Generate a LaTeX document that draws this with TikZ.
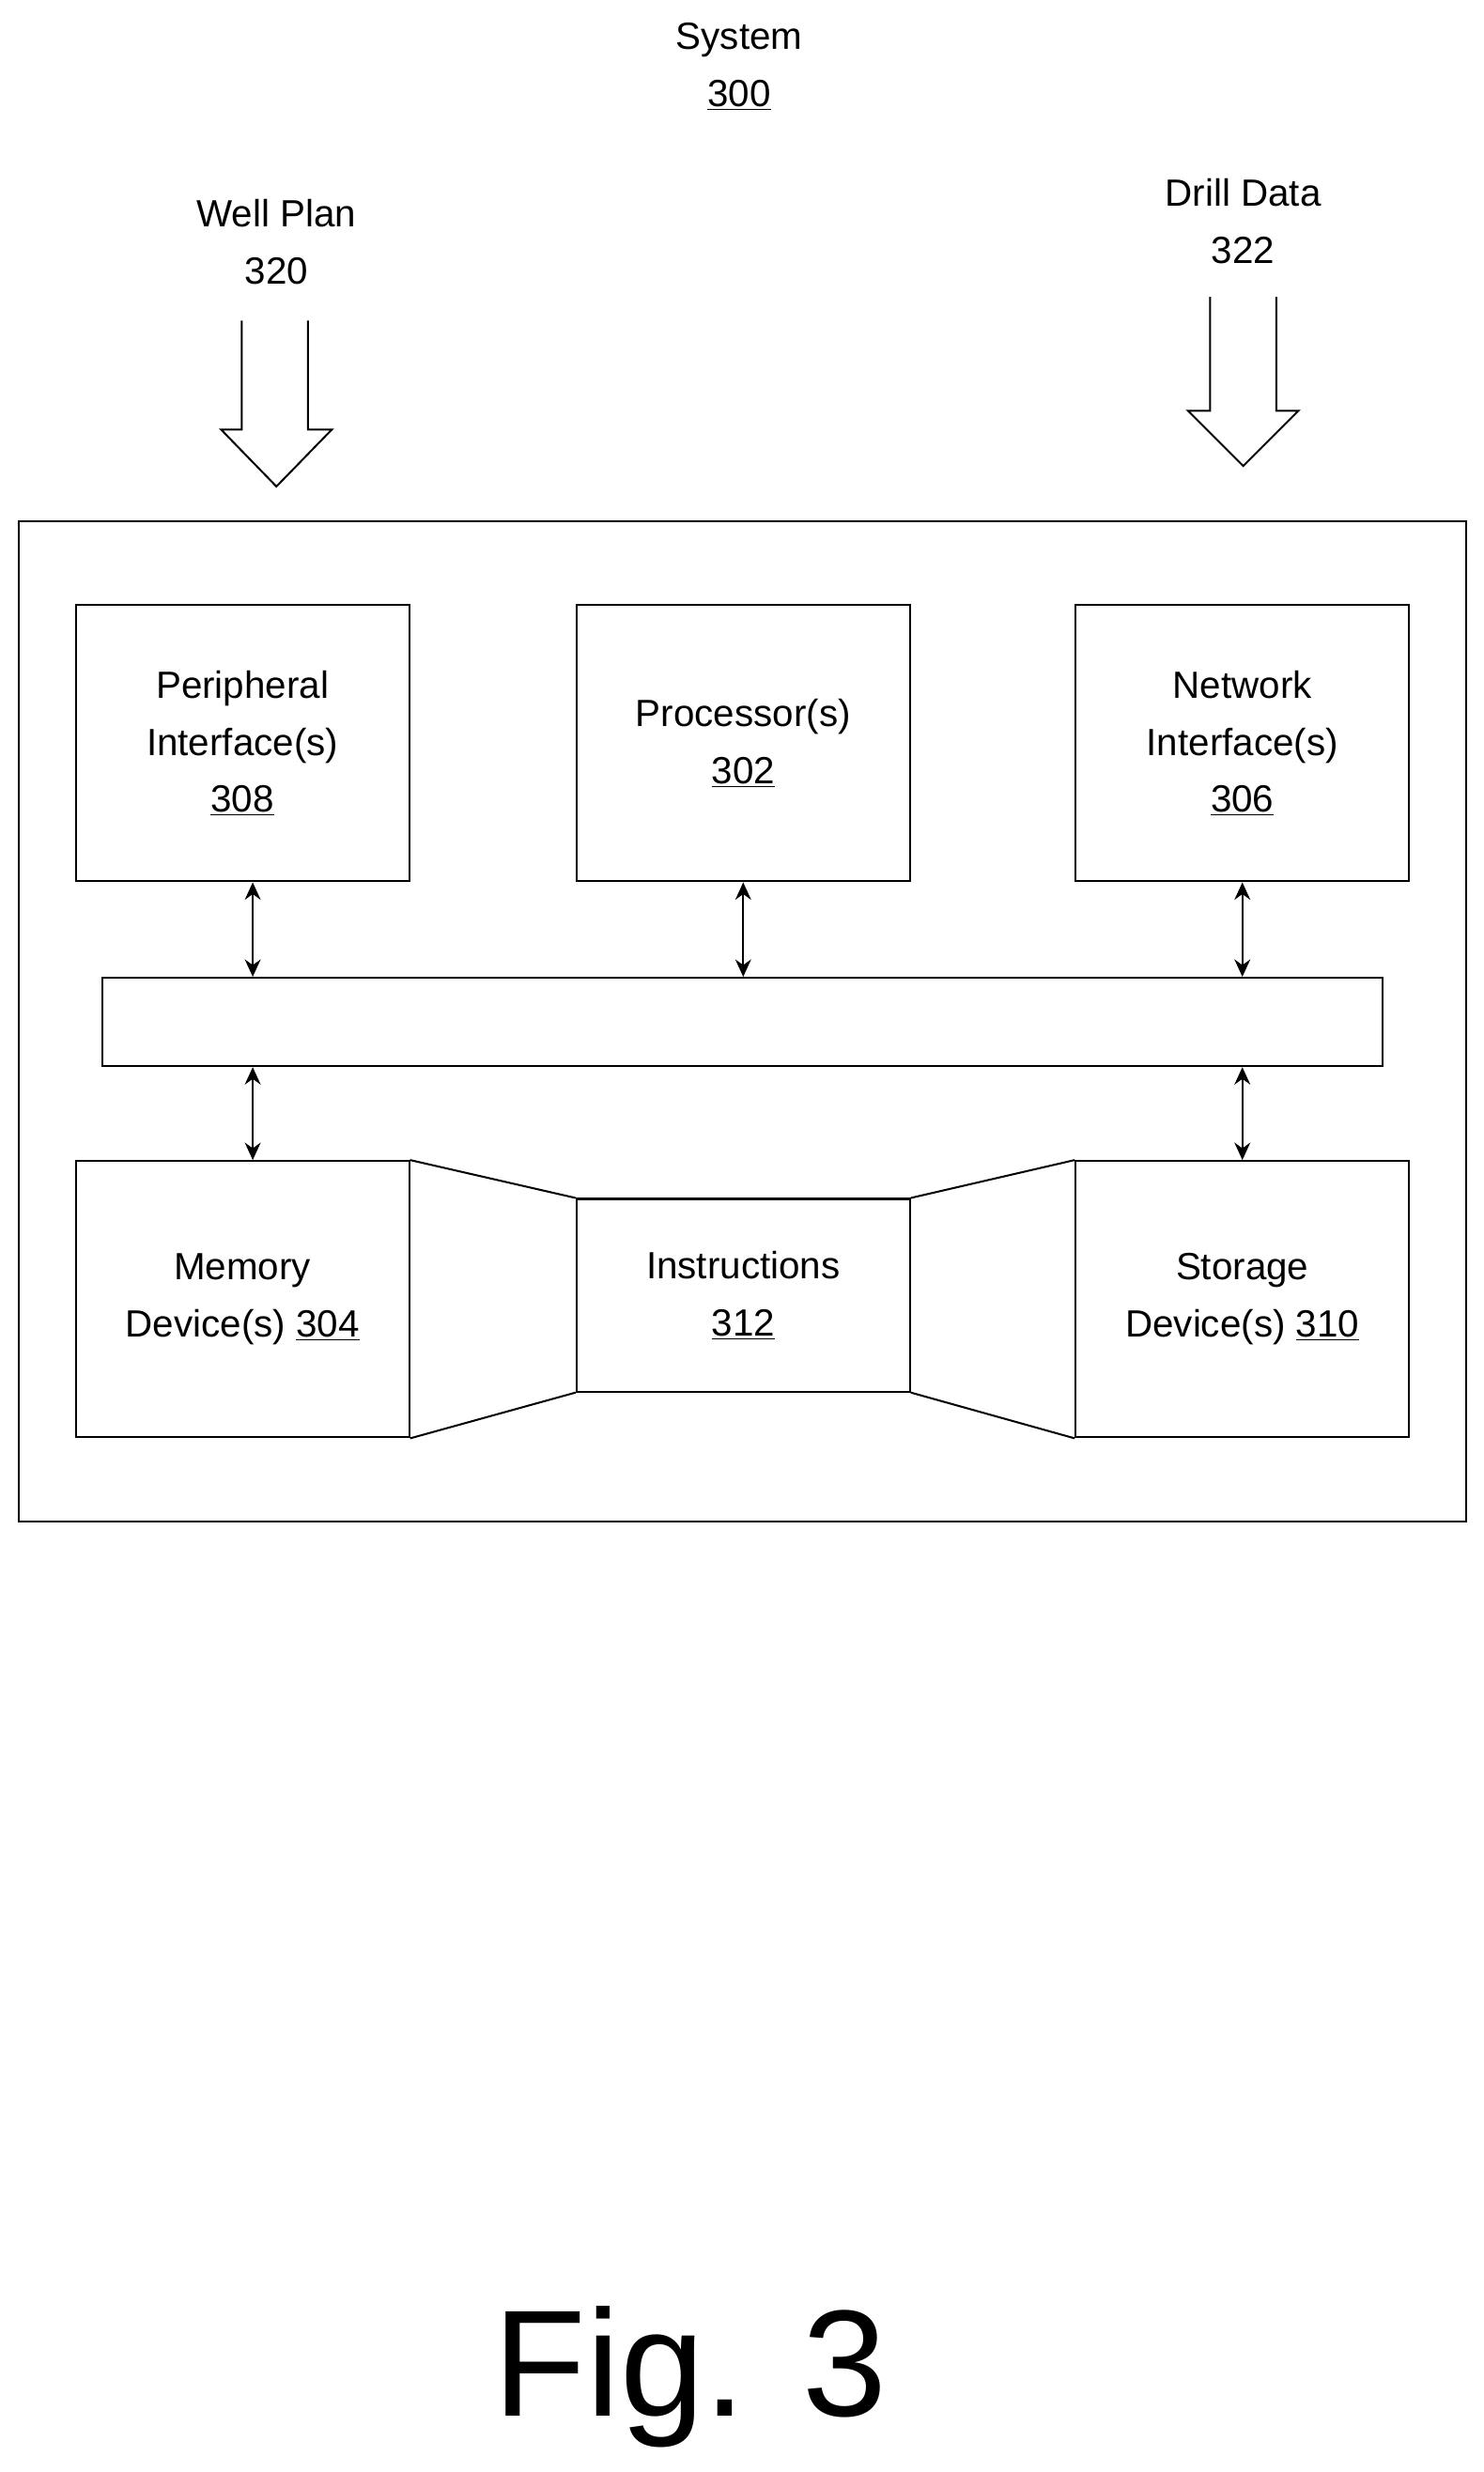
\documentclass[tikz,border=0pt]{standalone}
\usepackage{fontspec}
\setmainfont{Liberation Sans}
\usetikzlibrary{arrows.meta}
\begin{document}
\begin{tikzpicture}[x=1pt,y=-1pt,
  box/.style={draw,line width=1.2pt,inner sep=0,align=center,font=\fontsize{24}{36}\selectfont},
  lbl/.style={align=center,font=\fontsize{24}{36}\selectfont},
  dbl/.style={line width=1.4pt,{Stealth[length=11pt,width=10pt]}-{Stealth[length=11pt,width=10pt]}},
  hollow/.style={draw,line width=1.2pt,fill=white}]
\useasboundingbox (0,0) rectangle (939,1565);
\node[lbl] (sys) at (468,42) {System\\\underline{300}};
\node[lbl] (wp) at (175,153) {Well Plan\\320};
\node[lbl] (dd) at (787,140) {Drill Data\\322};
\draw[hollow] (153,203)--(153,272)--(140,272)--(175,308)--(210,272)--(195,272)--(195,203);
\draw[hollow] (766,188)--(766,260)--(752,260)--(787,295)--(822,260)--(808,260)--(808,188);
\node[box,minimum width=916,minimum height=633] (outer) at (470,646.5) {};
\node[box,minimum width=211,minimum height=175] (per) at (153.5,470.5) {Peripheral\\Interface(s)\\\underline{308}};
\node[box,minimum width=211,minimum height=175] (proc) at (470.5,470.5) {Processor(s)\\\underline{302}};
\node[box,minimum width=211,minimum height=175] (net) at (786.5,470.5) {Network\\Interface(s)\\\underline{306}};
\node[box,minimum width=810,minimum height=56] (bus) at (470,647) {};
\node[box,minimum width=211,minimum height=175] (mem) at (153.5,822.5) {Memory\\Device(s) \underline{304}};
\node[box,minimum width=211,minimum height=122] (ins) at (470.5,820) {Instructions\\\underline{312}};
\node[box,minimum width=211,minimum height=175] (sto) at (786.5,822.5) {Storage\\Device(s) \underline{310}};
\draw[line width=1.2pt] (mem.north east)--(ins.north west) (mem.south east)--(ins.south west)
  (ins.north east)--(sto.north west) (ins.south east)--(sto.south west);
\draw[dbl] ([xshift=6.5pt]per.south) -- ([xshift=6.5pt]per.south |- bus.north);
\draw[dbl] (proc.south) -- (proc.south |- bus.north);
\draw[dbl] (net.south) -- (net.south |- bus.north);
\draw[dbl] ([xshift=6.5pt]mem.north |- bus.south) -- ([xshift=6.5pt]mem.north);
\draw[dbl] (sto.north |- bus.south) -- (sto.north);
\node[font=\fontsize{96}{110}\selectfont] (fig) at (437,1505) {Fig. 3};
\end{tikzpicture}
\end{document}
